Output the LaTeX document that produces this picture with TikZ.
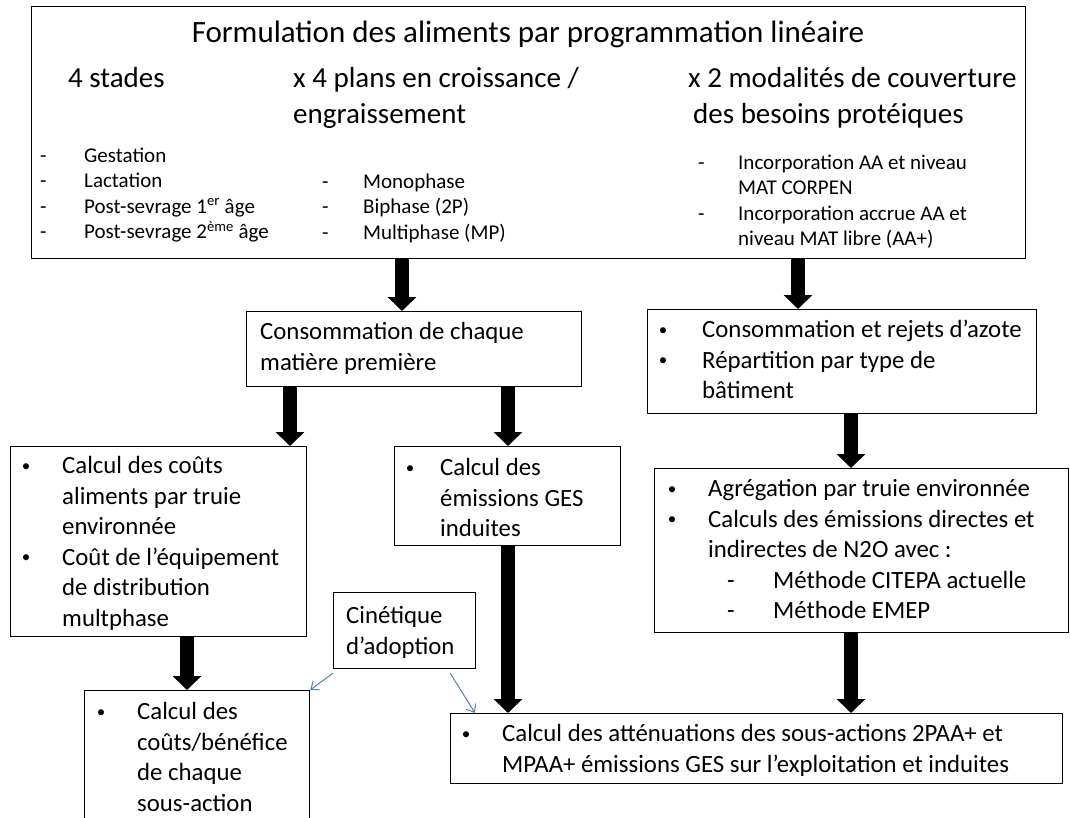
\documentclass[tikz,border=0pt]{standalone}
\usepackage{fontspec}
\setmainfont{Carlito}
\usetikzlibrary{arrows.meta,calc}
\definecolor{conn}{HTML}{4F81BD}
\newcommand{\mybul}{\hspace*{4pt}\makebox[0pt]{\raisebox{2.2pt}{\fontsize{17}{17}\selectfont •}}}
\begin{document}
\begin{tikzpicture}[x=1pt,y=-1pt,
  box/.style={draw=black,line width=1.2pt,rectangle,inner sep=0pt,anchor=north west},
  txt/.style={anchor=north west,inner sep=0pt,font=\fontsize{24.8}{30.5}\selectfont},
  lst/.style={anchor=north west,inner sep=0pt,font=\fontsize{21}{25.5}\selectfont},
  head/.style={anchor=base west,inner sep=0pt,font=\fontsize{29}{35}\selectfont},
  big/.style={line width=14pt,-{Triangle[width=28pt,length=14pt]}},
  thinarrow/.style={draw=conn,line width=1pt,-{Straight Barb[length=7pt,width=11pt]}}]
\useasboundingbox (0,0) rectangle (1070,818);
\clip (0,0) rectangle (1070,818);
\fill[white] (0,0) rectangle (1070,818);

% boxes
\node[box,minimum width=994pt,minimum height=252pt] (top) at (31,6) {};
\node[box,minimum width=335pt,minimum height=75pt] (cons) at (246,311) {};
\node[box,minimum width=389pt,minimum height=104pt] (r1) at (647,309) {};
\node[box,minimum width=296pt,minimum height=190pt] (lb) at (10,446) {};
\node[box,minimum width=226pt,minimum height=99pt] (mb) at (394,446) {};
\node[box,minimum width=414pt,minimum height=164pt] (agg) at (654,468) {};
\node[box,minimum width=142pt,minimum height=76pt] (cin) at (333,592) {};
\node[box,minimum width=225pt,minimum height=160pt] (cb) at (84,690) {};
\node[box,minimum width=612pt,minimum height=70pt] (fin) at (450,713) {};

% top box texts
\node[anchor=base,inner sep=0pt,font=\fontsize{31}{37}\selectfont] (title) at (528,43) {Formulation des aliments par programmation linéaire};
\node[head] (h1) at (68,88) {4 stades};
\node[head] (h2a) at (293,88) {x 4 plans en croissance /};
\node[head] (h2b) at (293,124) {engraissement};
\node[head] (h3a) at (688,88) {x 2 modalités de couverture};
\node[head] (h3b) at (693,124) {des besoins protéiques};

\node[lst] (l1) at (40,144) {\begin{tabular}{@{}l@{}}
\makebox[44pt][l]{-}Gestation\\
\makebox[44pt][l]{-}Lactation\\
\makebox[44pt][l]{-}Post-sevrage 1\textsuperscript{er} âge\\
\makebox[44pt][l]{-}Post-sevrage 2\textsuperscript{ème} âge
\end{tabular}};
\node[lst] (l2) at (322,170) {\begin{tabular}{@{}l@{}}
\makebox[41pt][l]{-}Monophase\\
\makebox[41pt][l]{-}Biphase (2P)\\
\makebox[41pt][l]{-}Multiphase (MP)
\end{tabular}};
\node[lst] (l3) at (698,151) {\begin{tabular}{@{}l@{}}
\makebox[40pt][l]{-}Incorporation AA et niveau\\
\makebox[40pt][l]{}MAT CORPEN\\
\makebox[40pt][l]{-}Incorporation accrue AA et\\
\makebox[40pt][l]{}niveau MAT libre (AA+)
\end{tabular}};

% other texts
\node[txt] (tcons) at (260,318) {\begin{tabular}{@{}l@{}}
Consommation de chaque\\
matière première
\end{tabular}};
\node[txt] (tr1) at (659,316) {\begin{tabular}{@{}p{43pt}@{}l@{}}
\mybul & Consommation et rejets d’azote\\
\mybul & Répartition par type de\\
 & bâtiment
\end{tabular}};
\node[txt] (tlb) at (22,452) {\begin{tabular}{@{}p{40pt}@{}l@{}}
\mybul & Calcul des coûts\\
 & aliments par truie\\
 & environnée\\
\mybul & Coût de l’équipement\\
 & de distribution\\
 & multphase
\end{tabular}};
\node[txt] (tmb) at (406,454) {\begin{tabular}{@{}p{34pt}@{}l@{}}
\mybul & Calcul des\\
 & émissions GES\\
 & induites
\end{tabular}};
\node[txt] (tagg) at (668,475) {\begin{tabular}{@{}p{40pt}@{}l@{}}
\mybul & Agrégation par truie environnée\\
\mybul & Calculs des émissions directes et\\
 & indirectes de N2O avec :\\
 & \hspace*{19pt}\makebox[46pt][l]{-}Méthode CITEPA actuelle\\
 & \hspace*{19pt}\makebox[46pt][l]{-}Méthode EMEP
\end{tabular}};
\node[txt] (tcin) at (346,602) {\begin{tabular}{@{}l@{}}
Cinétique\\
d’adoption
\end{tabular}};
\node[txt] (tcb) at (97,698) {\begin{tabular}{@{}p{40pt}@{}l@{}}
\mybul & Calcul des\\
 & coûts/bénéfice\\
 & de chaque\\
 & sous-action
\end{tabular}};
\node[txt] (tfin) at (462,720) {\begin{tabular}{@{}p{40pt}@{}l@{}}
\mybul & Calcul des atténuations des sous-actions 2PAA+ et\\
 & MPAA+ émissions GES sur l’exploitation et induites
\end{tabular}};

% arrow columns
\coordinate (x1) at (402,0);
\coordinate (x2) at (798,0);
\coordinate (x3) at (290,0);
\coordinate (x4) at (508,0);
\coordinate (x5) at (851,0);
\coordinate (x6) at (187,0);

\draw[big] (top.south -| x1) -- (cons.north -| x1);
\draw[big] (top.south -| x2) -- (r1.north -| x2);
\draw[big] (cons.south -| x3) -- (lb.north -| x3);
\draw[big] (cons.south -| x4) -- (mb.north -| x4);
\draw[big] (r1.south -| x5) -- (agg.north -| x5);
\draw[big] (lb.south -| x6) -- (cb.north -| x6);
\draw[big] (mb.south -| x4) -- (fin.north -| x4);
\draw[big] (agg.south -| x5) -- (fin.north -| x5);

\draw[thinarrow] ([yshift=-4pt]cin.south west) -- (cb.north east);
\draw[thinarrow] ([xshift=-26pt,yshift=-4pt]cin.south east) -- ([xshift=25pt]fin.north west);
\end{tikzpicture}
\end{document}
